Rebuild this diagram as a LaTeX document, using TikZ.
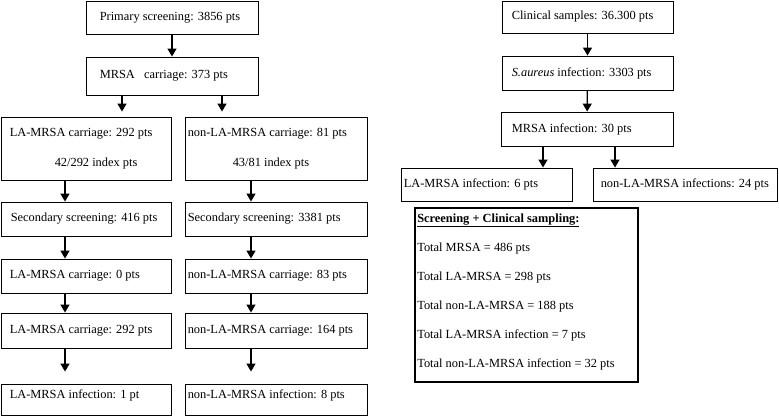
\documentclass[tikz,border=0pt]{standalone}
\usepackage{fontspec}
\setmainfont{Liberation Serif}
\usetikzlibrary{arrows.meta}
\begin{document}
\begin{tikzpicture}[x=1pt,y=-1pt,
  box/.style={draw,line width=0.9pt,rectangle,inner sep=0pt},
  sumbox/.style={draw,line width=1.8pt,rectangle,inner sep=0pt},
  txt/.style={anchor=west,inner ysep=0pt,align=left,font=\fontsize{12.4}{14.5}\selectfont},
  sumtxt/.style={anchor=west,inner ysep=0pt,align=left,font=\fontsize{12.4}{29}\selectfont},
  arr/.style={line width=1.3pt,-{Triangle[width=9pt,length=8pt]}}]
\useasboundingbox (0,0) rectangle (779,416);
% ---- left: screening ----
\node[box,minimum width=172pt,minimum height=33pt] (P) at (172,17.5) {};
\node[txt,inner xsep=14pt] (Pt) at (P.west) {Primary screening: 3856 pts};
\node[box,minimum width=172pt,minimum height=38pt] (M) at (172,76) {};
\node[txt,inner xsep=14pt] (Mt) at (M.west) {MRSA\ \ \ carriage: 373 pts};
\node[box,minimum width=170pt,minimum height=63pt] (LA1) at (86,148.5) {};
\node[txt,inner xsep=9pt] (LA1t) at (LA1.west) {LA-MRSA carriage: 292 pts\\[15.5pt]\hspace*{45pt}42/292 index pts};
\node[box,minimum width=182pt,minimum height=63pt] (NL1) at (276,148.5) {};
\node[txt,inner xsep=3pt] (NL1t) at (NL1.west) {non-LA-MRSA carriage: 81 pts\\[15.5pt]\hspace*{45pt}43/81 index pts};
\node[box,minimum width=170pt,minimum height=34pt] (LS) at (86,219) {};
\node[txt,inner xsep=10pt] (LSt) at (LS.west) {Secondary screening: 416 pts};
\node[box,minimum width=182pt,minimum height=34pt] (NS) at (276,219) {};
\node[txt,inner xsep=3pt] (NSt) at (NS.west) {Secondary screening: 3381 pts};
\node[box,minimum width=170pt,minimum height=34pt] (LC0) at (86,276) {};
\node[txt,inner xsep=9pt] (LC0t) at (LC0.west) {LA-MRSA carriage: 0 pts};
\node[box,minimum width=182pt,minimum height=34pt] (NC0) at (276,276) {};
\node[txt,inner xsep=3pt] (NC0t) at (NC0.west) {non-LA-MRSA carriage: 83 pts};
\node[box,minimum width=170pt,minimum height=35pt] (LC2) at (86,330.5) {};
\node[txt,inner xsep=9pt] (LC2t) at (LC2.west) {LA-MRSA carriage: 292 pts};
\node[box,minimum width=182pt,minimum height=35pt] (NC2) at (276,330.5) {};
\node[txt,inner xsep=3pt] (NC2t) at (NC2.west) {non-LA-MRSA carriage: 164 pts};
\node[box,minimum width=170pt,minimum height=31pt] (LI) at (86,399.5) {};
\node[txt,inner xsep=9pt,yshift=4pt] (LIt) at (LI.west) {LA-MRSA infection: 1 pt};
\node[box,minimum width=182pt,minimum height=31pt] (NI) at (276,399.5) {};
\node[txt,inner xsep=3pt,yshift=4pt] (NIt) at (NI.west) {non-LA-MRSA infection: 8 pts};
% arrows left
\draw[arr] (P) -- (M);
\draw[arr,shorten >=5pt] ([xshift=-50pt]M.south) -- ([xshift=-50pt]M.south |- LA1.north);
\draw[arr,shorten >=5pt] ([xshift=50pt]M.south) -- ([xshift=50pt]M.south |- NL1.north);
\draw[arr] ([xshift=-21pt]LA1.south) -- ([xshift=-21pt]LA1.south |- LS.north);
\draw[arr] ([xshift=-25pt]NL1.south) -- ([xshift=-25pt]NL1.south |- NS.north);
\draw[arr] ([xshift=-21pt]LS.south) -- ([xshift=-21pt]LS.south |- LC0.north);
\draw[arr] ([xshift=-25pt]NS.south) -- ([xshift=-25pt]NS.south |- NC0.north);
\draw[arr] ([xshift=-21pt]LC0.south) -- ([xshift=-21pt]LC0.south |- LC2.north);
\draw[arr] ([xshift=-25pt]NC0.south) -- ([xshift=-25pt]NC0.south |- NC2.north);
\draw[arr,shorten >=12pt] ([xshift=-21pt]LC2.south) -- ([xshift=-21pt]LC2.south |- LI.north);
\draw[arr,shorten >=12pt] ([xshift=-25pt]NC2.south) -- ([xshift=-25pt]NC2.south |- NI.north);
% ---- right: clinical ----
\node[box,minimum width=171pt,minimum height=32pt] (C) at (587.5,17) {};
\node[txt,inner xsep=10pt] (Ct) at (C.west) {Clinical samples: 36.300 pts};
\node[box,minimum width=171pt,minimum height=34pt] (S) at (587.5,73) {};
\node[txt,inner xsep=10pt] (St) at (S.west) {\textit{S.aureus} infection: 3303 pts};
\node[box,minimum width=172pt,minimum height=34pt] (MI) at (587,129) {};
\node[txt,inner xsep=11pt] (MIt) at (MI.west) {MRSA infection: 30 pts};
\node[box,minimum width=171pt,minimum height=33pt] (LAI) at (486.5,184.5) {};
\node[txt,inner xsep=3pt] (LAIt) at (LAI.west) {LA-MRSA infection: 6 pts};
\node[box,minimum width=184pt,minimum height=33pt] (NLI) at (685,184.5) {};
\node[txt,inner xsep=8pt] (NLIt) at (NLI.west) {non-LA-MRSA infections: 24 pts};
\draw[arr] (C) -- (S);
\draw[arr] (S) -- (MI);
\draw[arr] ([xshift=-44pt]MI.south) -- ([xshift=-44pt]MI.south |- LAI.north);
\draw[arr] ([xshift=28pt]MI.south) -- ([xshift=28pt]MI.south |- NLI.north);
% summary
\node[sumbox,minimum width=223pt,minimum height=174pt] (Sum) at (526.5,295) {};
\node[sumtxt,inner xsep=3pt,yshift=3pt] (Sumt) at (Sum.west) {\underline{\textbf{Screening + Clinical sampling:}}\\
Total MRSA = 486 pts\\
Total LA-MRSA = 298 pts\\
Total non-LA-MRSA = 188 pts\\
Total LA-MRSA infection = 7 pts\\
Total non-LA-MRSA infection = 32 pts};
\end{tikzpicture}
\end{document}
